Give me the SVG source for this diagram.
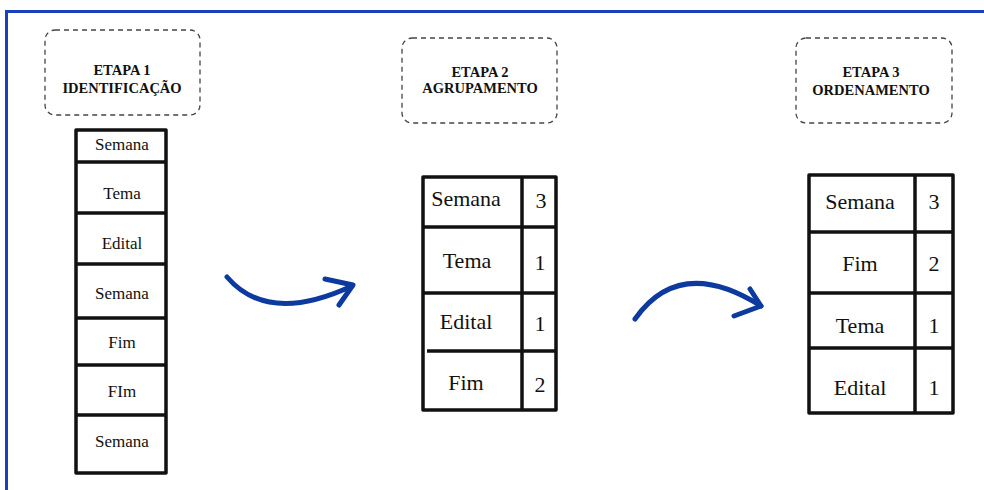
<svg xmlns="http://www.w3.org/2000/svg" width="984" height="490" viewBox="0 0 984 490">
<style>
.frame{fill:none;stroke:#1a40c0;stroke-width:3}
.hdr{fill:none;stroke:#444;stroke-width:1.3;stroke-dasharray:5 4}
.ht{font-family:"Liberation Serif","DejaVu Serif","Times New Roman",serif;font-weight:bold;font-size:14.5px;fill:#111;text-anchor:middle}
.tb{fill:none;stroke:#111;stroke-width:3.5;stroke-linejoin:round}
.ln{stroke:#111;stroke-width:3.5}
.t1{font-family:"Liberation Serif","DejaVu Serif","Times New Roman",serif;font-size:17px;fill:#111;text-anchor:middle}
.t2{font-family:"Liberation Serif","DejaVu Serif","Times New Roman",serif;font-size:22px;fill:#111;text-anchor:middle}
.arr{fill:none;stroke:#0c3a9e;stroke-width:5;stroke-linecap:round;stroke-linejoin:round}
</style>
<rect x="0" y="0" width="984" height="490" fill="#fff"/>
<path class="frame" d="M6.5 490 V11.5 H984"/>

<g id="stage1">
<rect class="hdr" x="45" y="30" width="155" height="85" rx="10"/>
<text class="ht" x="122" y="75">ETAPA 1</text>
<text class="ht" x="122" y="93">IDENTIFICAÇÃO</text>
</g>
<g id="table1">
<rect class="tb" x="76" y="130" width="90" height="343"/>
<line class="ln" x1="76" y1="162" x2="166" y2="162"/>
<line class="ln" x1="76" y1="213" x2="166" y2="213"/>
<line class="ln" x1="76" y1="264" x2="166" y2="264"/>
<line class="ln" x1="76" y1="318" x2="166" y2="318"/>
<line class="ln" x1="76" y1="365" x2="166" y2="365"/>
<line class="ln" x1="76" y1="415" x2="166" y2="415"/>
<text class="t1" x="122" y="150">Semana</text>
<text class="t1" x="122" y="199">Tema</text>
<text class="t1" x="122" y="249">Edital</text>
<text class="t1" x="122" y="299">Semana</text>
<text class="t1" x="122" y="348">Fim</text>
<text class="t1" x="122" y="397">FIm</text>
<text class="t1" x="122" y="447">Semana</text>
</g>

<g id="stage2">
<rect class="hdr" x="402" y="38" width="155" height="85" rx="10"/>
<text class="ht" x="480" y="77">ETAPA 2</text>
<text class="ht" x="480" y="93">AGRUPAMENTO</text>
</g>
<g id="table2">
<rect class="tb" x="423" y="177" width="133" height="233"/>
<line class="ln" x1="522" y1="177" x2="522" y2="410"/>
<line class="ln" x1="423" y1="227" x2="556" y2="227"/>
<line class="ln" x1="423" y1="293" x2="556" y2="293"/>
<line class="ln" x1="427" y1="351" x2="556" y2="351"/>
<text class="t2" x="466" y="206">Semana</text>
<text class="t2" x="541" y="208">3</text>
<text class="t2" x="467" y="268">Tema</text>
<text class="t2" x="540" y="270">1</text>
<text class="t2" x="466" y="329">Edital</text>
<text class="t2" x="540" y="331">1</text>
<text class="t2" x="466" y="390">Fim</text>
<text class="t2" x="540" y="392">2</text>
</g>

<g id="stage3">
<rect class="hdr" x="796" y="38" width="156" height="85" rx="10"/>
<text class="ht" x="871" y="77">ETAPA 3</text>
<text class="ht" x="871" y="95">ORDENAMENTO</text>
</g>
<g id="table3">
<rect class="tb" x="809" y="175" width="144" height="238"/>
<line class="ln" x1="915" y1="175" x2="915" y2="413"/>
<line class="ln" x1="809" y1="232" x2="953" y2="232"/>
<line class="ln" x1="809" y1="293" x2="953" y2="293"/>
<line class="ln" x1="809" y1="348" x2="953" y2="348"/>
<text class="t2" x="860" y="209">Semana</text>
<text class="t2" x="934" y="209">3</text>
<text class="t2" x="860" y="271">Fim</text>
<text class="t2" x="934" y="271">2</text>
<text class="t2" x="860" y="333">Tema</text>
<text class="t2" x="934" y="333">1</text>
<text class="t2" x="860" y="395">Edital</text>
<text class="t2" x="934" y="395">1</text>
</g>

<g id="connectors">
<path class="arr" d="M227 277 Q268 325 352 286"/>
<path class="arr" d="M325 279 L353 285 L339 305" stroke-width="6"/>
<path class="arr" d="M635 319 Q680 255 761 306"/>
<path class="arr" d="M750 289 L761 306 L734 316" stroke-width="6"/>
</g>
</svg>
